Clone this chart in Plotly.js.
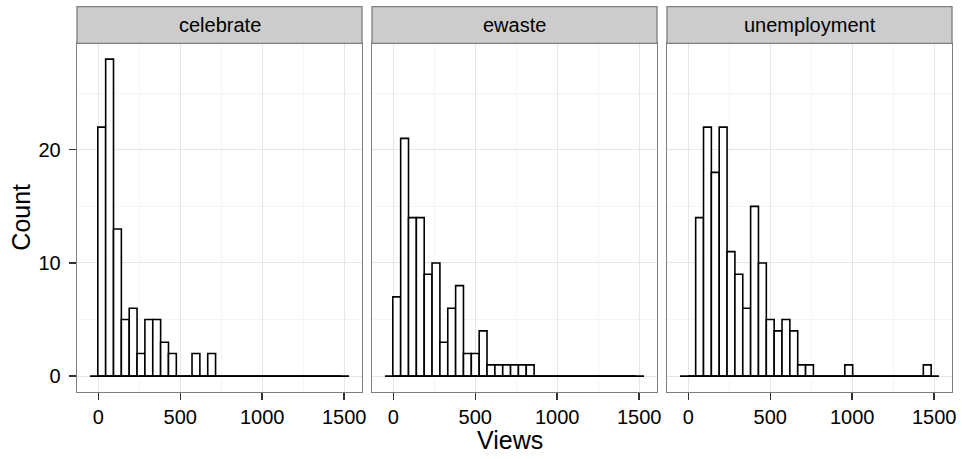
<!DOCTYPE html>
<html>
<head>
<meta charset="utf-8">
<script src="https://cdn.plot.ly/plotly-3.0.1.min.js"></script>
<style>
  html, body { margin: 0; padding: 0; background: #ffffff; }
  #chart { width: 962px; height: 459px; }
</style>
</head>
<body>
<div id="chart"></div>
<script>
// ---- Data (histogram counts per bin, bins of equal width) ----
const facets = ["celebrate", "ewaste", "unemployment"];
const binStart = -3;      // left edge of first data bin (Views)
const binWidth = 47.9;    // bin width (Views)
const celebrate = [22,28,13,5,6,2,5,5,3,2,0,0,2,0,2,0,0,0,0,0,0,0,0,0,0,0,0,0,0,0,0];
const ewaste = [7,21,14,14,9,10,3,6,8,2,2,4,1,1,1,1,1,1,0,0,0,0,0,0,0,0,0,0,0,0,0];
const unemployment = [0,14,22,18,22,11,9,6,15,10,5,4,5,4,1,1,0,0,0,0,1,0,0,0,0,0,0,0,0,0,1];
const xTicks = [0, 500, 1000, 1500];
const yTicks = [0, 10, 20];

// ---- Layout geometry ----
const W = 962, H = 459;
const mL = 77, mR = 10, mT = 7, mB = 67;
const plotW = W - mL - mR, plotH = H - mT - mB;
const panelPx = [[77, 362], [372, 657], [667, 952]];
const panelTopPx = 43.3, panelBottomPx = 392;
const toPX = px => (px - mL) / plotW;
const toPY = py => (H - mB - py) / plotH;
const yTop = toPY(panelTopPx);

const FONT = "Liberation Sans, Arial, Helvetica, sans-serif";
const series = [celebrate, ewaste, unemployment];
const traces = [];
const nBins = celebrate.length;
const centers = celebrate.map((_, i) => binStart + binWidth * (i + 0.5));
const baseX = [binStart - binWidth, binStart + (nBins + 1) * binWidth];

series.forEach((vals, k) => {
  const ax = k === 0 ? "" : String(k + 1);
  traces.push({
    type: "bar",
    x: centers,
    y: vals,
    width: binWidth,
    xaxis: "x" + ax, yaxis: "y" + ax,
    marker: { color: "#ffffff", line: { color: "#000000", width: 1.6 } },
    showlegend: false, hoverinfo: "x+y"
  });
  traces.push({
    type: "scatter", mode: "lines",
    x: baseX, y: [0, 0],
    xaxis: "x" + ax, yaxis: "y" + ax,
    line: { color: "#000000", width: 1.8 },
    showlegend: false, hoverinfo: "skip"
  });
});

const layout = {
  width: W, height: H,
  margin: { l: mL, r: mR, t: mT, b: mB, pad: 0 },
  paper_bgcolor: "#ffffff",
  plot_bgcolor: "#ffffff",
  font: { family: FONT, color: "#000000", size: 20 },
  bargap: 0,
  showlegend: false,
  shapes: [],
  annotations: []
};

const xRange = [-130, 1609];
const yRange = [-1.4, 29.4];

panelPx.forEach((p, k) => {
  const ax = k === 0 ? "" : String(k + 1);
  const dom = [toPX(p[0]), toPX(p[1])];
  layout["xaxis" + ax] = {
    domain: dom, anchor: "y" + ax, range: xRange,
    tickmode: "array", tickvals: xTicks, ticktext: xTicks.map(String),
    ticks: "outside", ticklen: 7, tickwidth: 1.4, tickcolor: "#333333",
    tickfont: { family: FONT, size: 20, color: "#000000" },
    showgrid: true, gridcolor: "#E6E6E6", gridwidth: 1,
    minor: { tickvals: [250, 750, 1250], showgrid: true, gridcolor: "#F5F5F5", gridwidth: 1, ticks: "" },
    zeroline: false,
    showline: true, mirror: true, linecolor: "#7F7F7F", linewidth: 1.3,
    fixedrange: true
  };
  layout["yaxis" + ax] = {
    domain: [0, yTop], anchor: "x" + ax, range: yRange,
    tickmode: "array", tickvals: yTicks, ticktext: yTicks.map(String),
    ticks: k === 0 ? "outside" : "", ticklen: 7, tickwidth: 1.4, tickcolor: "#333333",
    showticklabels: k === 0,
    ticklabelstandoff: 4,
    tickfont: { family: FONT, size: 20, color: "#000000" },
    showgrid: true, gridcolor: "#E6E6E6", gridwidth: 1,
    minor: { tickvals: [5, 15, 25], showgrid: true, gridcolor: "#F5F5F5", gridwidth: 1, ticks: "" },
    zeroline: false,
    showline: true, mirror: true, linecolor: "#7F7F7F", linewidth: 1.3,
    fixedrange: true
  };
  // strip
  layout.shapes.push({
    type: "rect", xref: "paper", yref: "paper",
    x0: dom[0], x1: dom[1], y0: yTop, y1: toPY(6.7),
    fillcolor: "#CCCCCC", line: { color: "#7F7F7F", width: 1.3 }, layer: "above"
  });
  layout.annotations.push({
    xref: "paper", yref: "paper",
    x: (dom[0] + dom[1]) / 2, y: (yTop + toPY(6.7)) / 2,
    xanchor: "center", yanchor: "middle",
    text: facets[k], showarrow: false,
    font: { family: FONT, size: 20, color: "#000000" }
  });
});

// axis titles
layout.annotations.push({
  xref: "paper", yref: "paper",
  x: toPX(510), y: toPY(440),
  xanchor: "center", yanchor: "middle",
  text: "Views", showarrow: false,
  font: { family: FONT, size: 25, color: "#000000" }
});
layout.annotations.push({
  xref: "paper", yref: "paper",
  x: toPX(21), y: toPY((panelTopPx + panelBottomPx) / 2),
  xanchor: "center", yanchor: "middle", textangle: -90,
  text: "Count", showarrow: false,
  font: { family: FONT, size: 25, color: "#000000" }
});

Plotly.newPlot("chart", traces, layout, { staticPlot: true, displayModeBar: false });
</script>
</body>
</html>
